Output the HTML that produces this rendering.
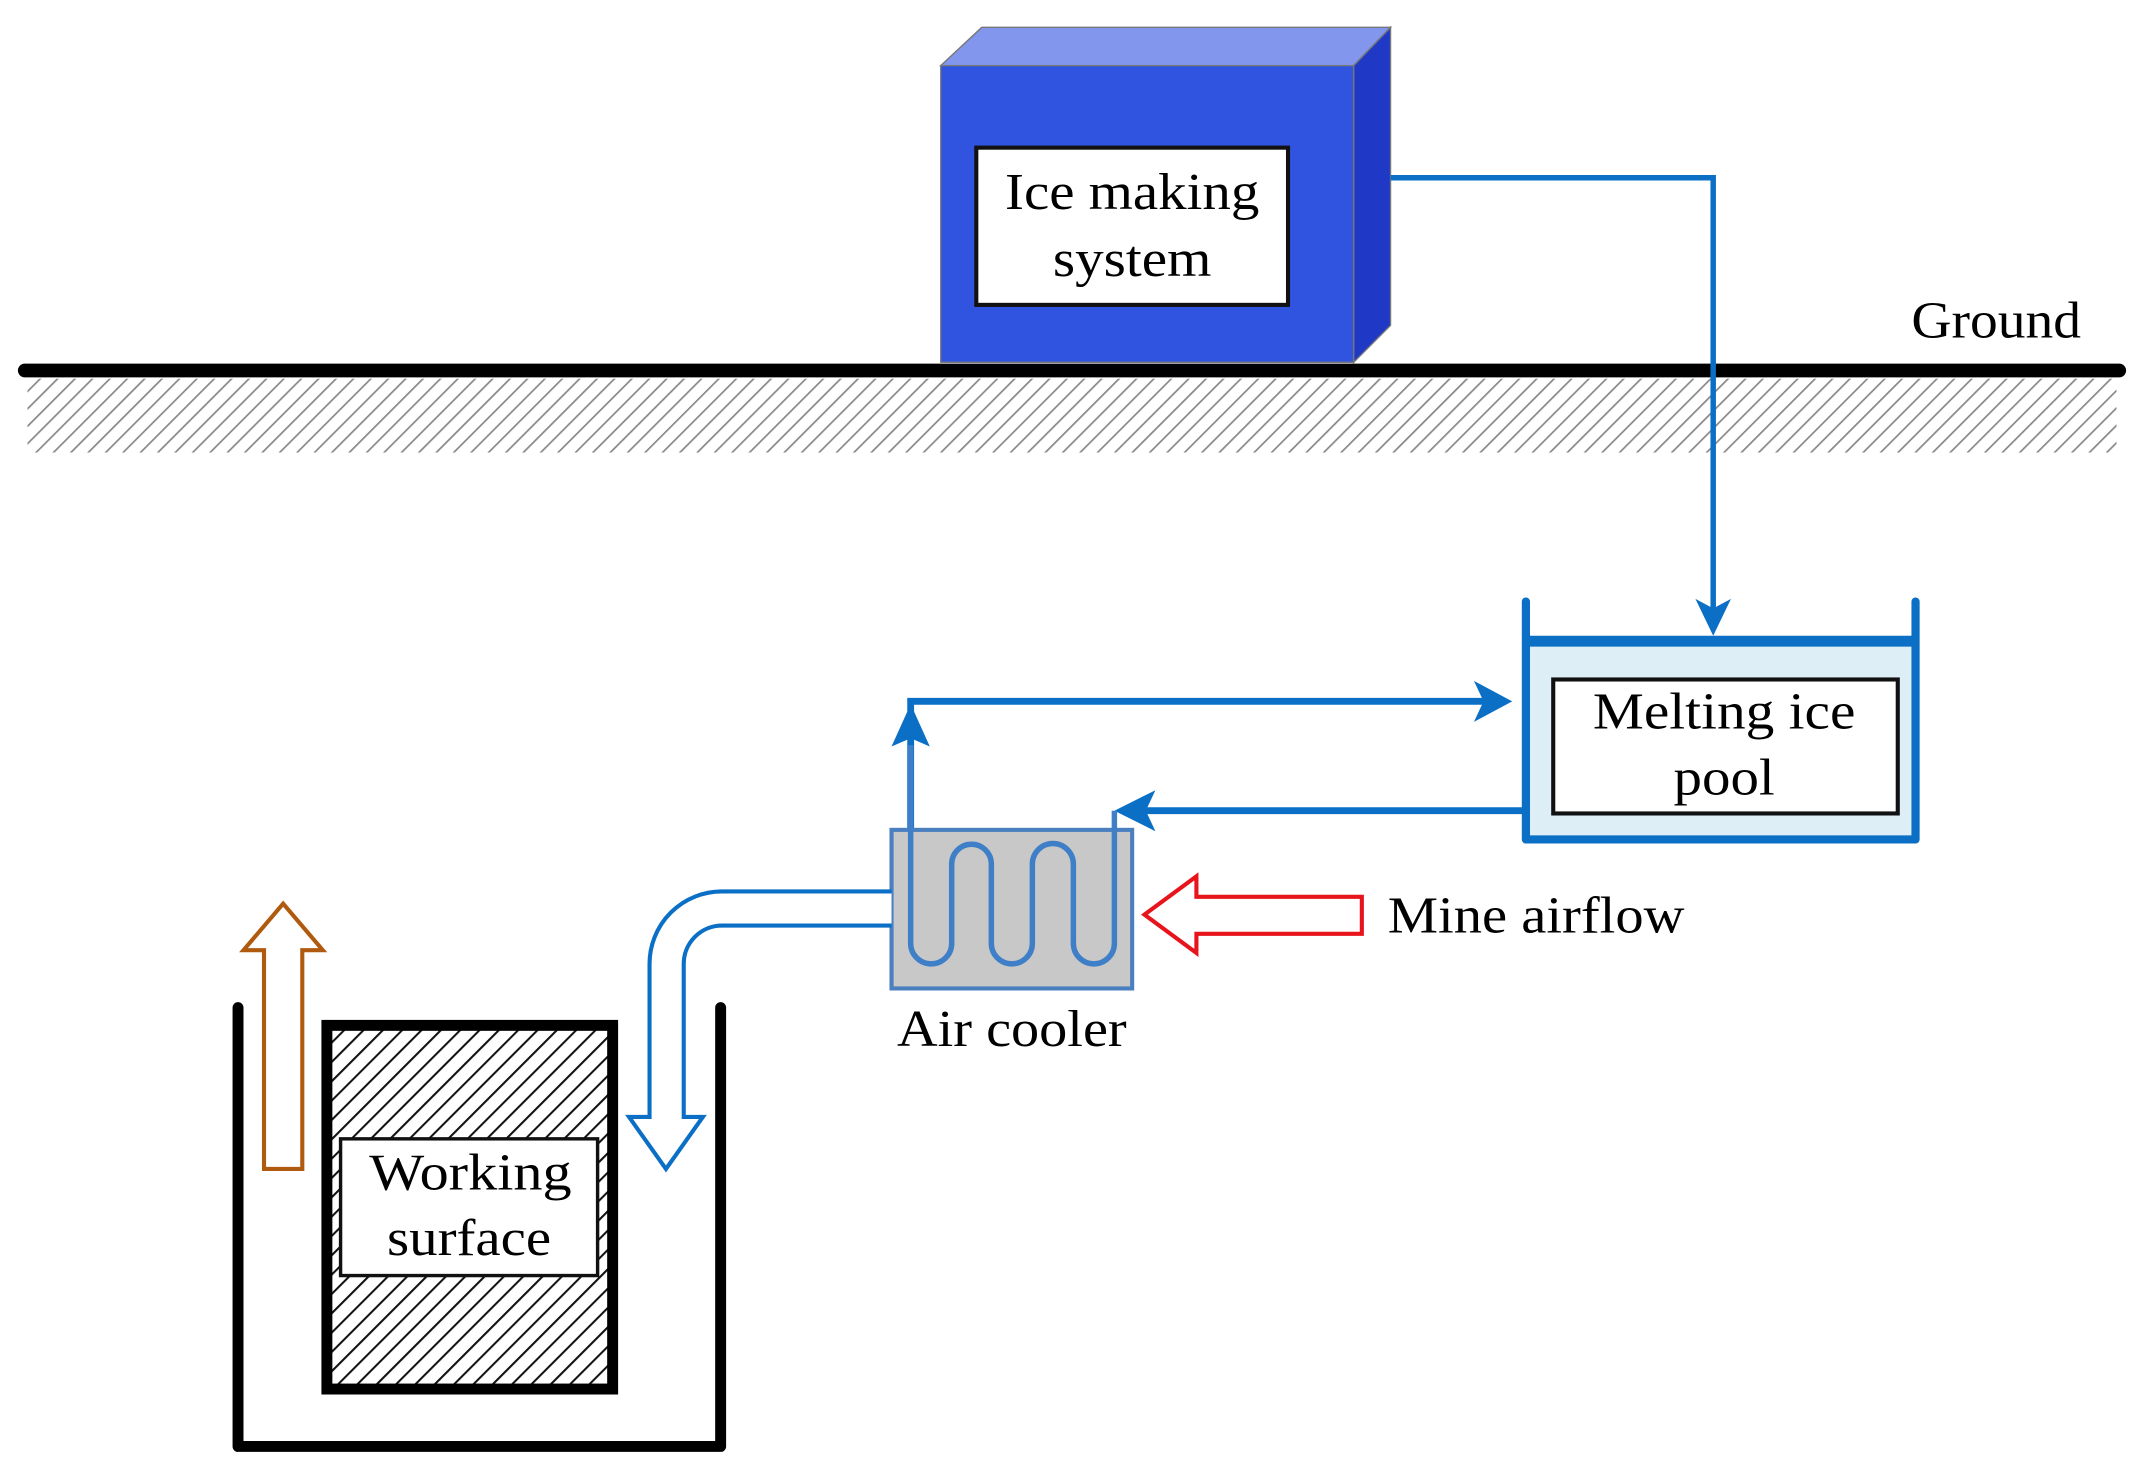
<!DOCTYPE html>
<html><head><meta charset="utf-8"><style>
html,body{margin:0;padding:0;background:#fff;}
svg{display:block;}
</style></head><body>
<svg width="2144" height="1482" viewBox="0 0 1568 1084" xmlns="http://www.w3.org/2000/svg">
<defs>
<pattern id="h1" patternUnits="userSpaceOnUse" width="9" height="9" patternTransform="rotate(45)">
<rect width="9" height="9" fill="#fff"/><line x1="0" y1="0" x2="0" y2="9" stroke="#888" stroke-width="2.5"/></pattern>
<pattern id="h2" patternUnits="userSpaceOnUse" width="10" height="10" patternTransform="rotate(45)">
<rect width="10" height="10" fill="#fff"/><line x1="0" y1="0" x2="0" y2="10" stroke="#111" stroke-width="3"/></pattern>
</defs>
<rect x="20" y="277" width="1528" height="54" fill="url(#h1)"/>
<polygon points="688,48 718,20 1017,20 990,48" fill="#8396ee" stroke="#777" stroke-width="1"/>
<polygon points="990,48 1017,20 1017,238 990,265" fill="#1f38c6" stroke="#777" stroke-width="1"/>
<rect x="688" y="48" width="302" height="217" fill="#3053e0" stroke="#777" stroke-width="1"/>
<rect x="714" y="108" width="228" height="115" fill="#fff" stroke="#111" stroke-width="3"/>
<line x1="18" y1="271" x2="1550" y2="271" stroke="#000" stroke-width="10" stroke-linecap="round"/>
<polyline points="1017,130 1253,130 1253,445" fill="none" stroke="#0a6fc5" stroke-width="4"/>
<polygon points="1240,438 1253,465 1266,438 1253,445" fill="#0a6fc5"/>
<rect x="1118" y="470" width="282" height="142" fill="#ddeef6"/>
<polyline points="1116,440 1116,614 1401,614 1401,440" fill="none" stroke="#0a6fc5" stroke-width="6" stroke-linecap="round" stroke-linejoin="round"/>
<line x1="1116" y1="469" x2="1401" y2="469" stroke="#0a6fc5" stroke-width="8"/>
<rect x="1136" y="497" width="252" height="98" fill="#fff" stroke="#111" stroke-width="3"/>
<polyline points="666,607 666,513 1085,513" fill="none" stroke="#0a6fc5" stroke-width="5"/>
<polygon points="1078,498 1106,513 1078,528 1085,513" fill="#0a6fc5"/>
<polygon points="652,546 666,515 680,546 666,540" fill="#0a6fc5"/>
<line x1="1116" y1="593" x2="835" y2="593" stroke="#0a6fc5" stroke-width="5"/>
<polygon points="845,578 815,593 845,608 838,593" fill="#0a6fc5"/>
<rect x="652" y="607" width="176" height="116" fill="#c8c8c8" stroke="#4a7fc0" stroke-width="3"/>
<path d="M666,545 L666,690 A15,15 0 0 0 696,690 L696,632 A14.5,14.5 0 0 1 725,632 L725,690 A15,15 0 0 0 755,690 L755,632 A15,15 0 0 1 785,632 L785,690 A15,15 0 0 0 815,690 L815,593" fill="none" stroke="#3f7fc8" stroke-width="4"/>
<polygon points="996,656 875,656 875,641 837,669 875,697 875,683 996,683" fill="#fff" stroke="#e8141c" stroke-width="3"/>
<path d="M652,652 L528,652 A53,53 0 0 0 475,705 L475,817 L460,817 L487,855 L514,817 L500,817 L500,705 A28,28 0 0 1 528,677 L652,677" fill="#fff" stroke="#0a6fc5" stroke-width="3"/>
<polygon points="193,855 221,855 221,695 236,695 207,661 178,695 193,695" fill="#fff" stroke="#b05a10" stroke-width="3"/>
<polyline points="174,737 174,1058 527,1058 527,737" fill="none" stroke="#000" stroke-width="8" stroke-linecap="round" stroke-linejoin="round"/>
<rect x="239" y="750" width="209" height="266" fill="url(#h2)" stroke="#000" stroke-width="8"/>
<rect x="249" y="833" width="188" height="100" fill="#fff" stroke="#111" stroke-width="2.5"/>
<g font-family="Liberation Serif, Times New Roman, serif" font-size="38" fill="#000">
<text x="735" y="153" textLength="186" lengthAdjust="spacingAndGlyphs">Ice making</text>
<text x="770" y="202" textLength="116" lengthAdjust="spacingAndGlyphs">system</text>
<text x="1398" y="247" textLength="124" lengthAdjust="spacingAndGlyphs">Ground</text>
<text x="1165" y="533" textLength="192" lengthAdjust="spacingAndGlyphs">Melting ice</text>
<text x="1224" y="581" textLength="74" lengthAdjust="spacingAndGlyphs">pool</text>
<text x="656" y="765" textLength="168" lengthAdjust="spacingAndGlyphs">Air cooler</text>
<text x="1015" y="682" textLength="217" lengthAdjust="spacingAndGlyphs">Mine airflow</text>
<text x="270" y="870" textLength="148" lengthAdjust="spacingAndGlyphs">Working</text>
<text x="283" y="918" textLength="120" lengthAdjust="spacingAndGlyphs">surface</text>
</g>
</svg>
</body></html>
